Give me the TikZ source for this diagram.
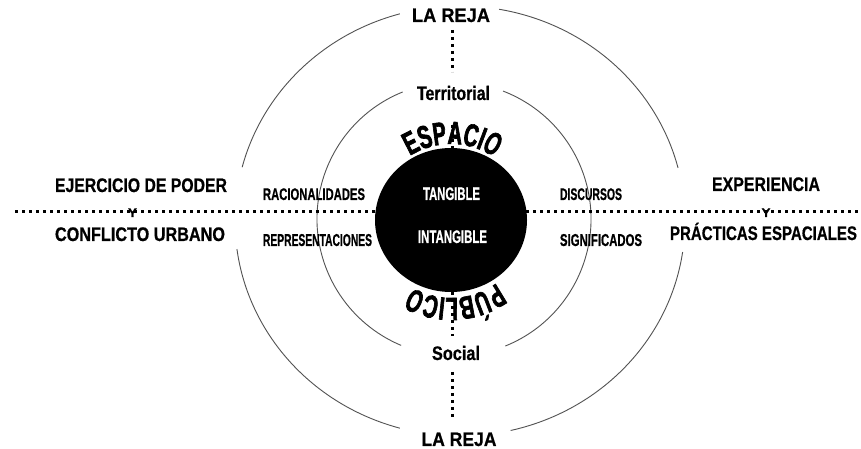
\documentclass[tikz,border=0pt]{standalone}
\usepackage{fontspec}
\usepackage{graphicx}
\setmainfont{Liberation Sans}[FakeBold=0.7]
\newfontfamily\arcfont[FakeStretch=0.62, FakeBold=2]{Liberation Sans}
\usetikzlibrary{decorations.text,shapes.geometric}
\newcommand\fitw[3]{\resizebox{#1}{\height}{\fontsize{#2}{#2}\selectfont\bfseries #3}}
\begin{document}
\begin{tikzpicture}[x=1pt,y=1pt,
  ring/.style={draw=black!68, line width=0.9pt},
  dotline/.style={line width=3pt, dash pattern=on 3.2pt off 3.8pt},
  lbl/.style={inner sep=0pt, anchor=base},
  disk/.style={ellipse, fill=black, minimum width=152pt, minimum height=144pt, inner sep=0pt},
  arctext/.style={decorate, decoration={text along path, text align=center, text={|\arcfont\bfseries\fontsize{32}{32}\selectfont|#1}}}]
\useasboundingbox (0,0) rectangle (861,449);
\fill[white] (0,0) rectangle (861,449);

% centres
\coordinate (oc) at (460,228);
\coordinate (mc) at (454,230);
\coordinate (c) at (451,228);

% outer ring (broken)
\draw[ring] ([shift={(105.5:225 and 215)}]oc) arc[start angle=105.5, end angle=165.5, x radius=225, y radius=215];
\draw[ring] ([shift={(187.5:225 and 215)}]oc) arc[start angle=187.5, end angle=254.5, x radius=225, y radius=215];
\draw[ring] ([shift={(283:225 and 215)}]oc) arc[start angle=283, end angle=351.7, x radius=225, y radius=215];
\draw[ring] ([shift={(14.3:225 and 215)}]oc) arc[start angle=14.3, end angle=80, x radius=225, y radius=215];

% middle ring (broken)
\draw[ring] ([shift={(112:137)}]mc) arc[start angle=112, end angle=247.3, radius=137];
\draw[ring] ([shift={(-68:137)}]mc) arc[start angle=-68, end angle=69, radius=137];

% dotted axes
\coordinate (hl) at (15,237.5);
\coordinate (hr) at (858,237.5);
\draw[dotline] (hl) -- (hr);
\coordinate (v1a) at (452,419); \coordinate (v1b) at (452,377);
\coordinate (v2a) at (452,324); \coordinate (v2b) at (452,300);
\coordinate (v3a) at (452,157); \coordinate (v3b) at (452,113);
\coordinate (v4a) at (452,77);  \coordinate (v4b) at (452,32);
\draw[dotline] (v1a) -- (v1b);
\draw[dotline] (v2a) -- (v2b);
\draw[dotline] (v3a) -- (v3b);
\draw[dotline] (v4a) -- (v4b);

% black disk
\node[disk] (disk) at (451,229) {};

% curved titles
\path[arctext=ESPACIO] ([shift={(149:77)}]c) arc[start angle=149, end angle=29, radius=77];
\path[arctext=PÚBLICO] ([shift={(-27:77)}]c) arc[start angle=-27, end angle=-147, radius=77];

% labels
\node[lbl] (lrt) at (451,427) {\fitw{78pt}{19.6pt}{LA REJA}};
\node[lbl] (lrb) at (459,3) {\fitw{75pt}{19.6pt}{LA REJA}};
\node[lbl] (ejp) at (141,257) {\fitw{172pt}{19.6pt}{EJERCICIO DE PODER}};
\node[lbl] (cfu) at (140,208) {\fitw{170pt}{19.6pt}{CONFLICTO URBANO}};
\node[lbl] (yl) at (132.5,232) {\fitw{9pt}{12.6pt}{Y}};
\node[lbl] (exp) at (766,258) {\fitw{108pt}{19.6pt}{EXPERIENCIA}};
\node[lbl] (pre) at (763.5,209) {\fitw{187pt}{19.6pt}{PRÁCTICAS ESPACIALES}};
\node[lbl] (yr) at (766,232) {\fitw{9pt}{12.6pt}{Y}};
\node[lbl] (rac) at (314,249) {\fitw{102pt}{16.8pt}{RACIONALIDADES}};
\node[lbl] (rep) at (317.5,203) {\fitw{109pt}{17.2pt}{REPRESENTACIONES}};
\node[lbl] (dis) at (591,249) {\fitw{62pt}{16.8pt}{DISCURSOS}};
\node[lbl] (sig) at (601,203) {\fitw{82pt}{17.2pt}{SIGNIFICADOS}};
\node[lbl,text=white] (tan) at (451.5,249) {\fitw{57pt}{18.2pt}{TANGIBLE}};
\node[lbl,text=white] (int) at (452.5,206) {\fitw{69pt}{18.2pt}{INTANGIBLE}};
\node[lbl] (ter) at (453.5,349) {\fitw{73pt}{19.6pt}{Territorial}};
\node[lbl] (soc) at (456,89) {\fitw{48pt}{19.6pt}{Social}};
\end{tikzpicture}
\end{document}
